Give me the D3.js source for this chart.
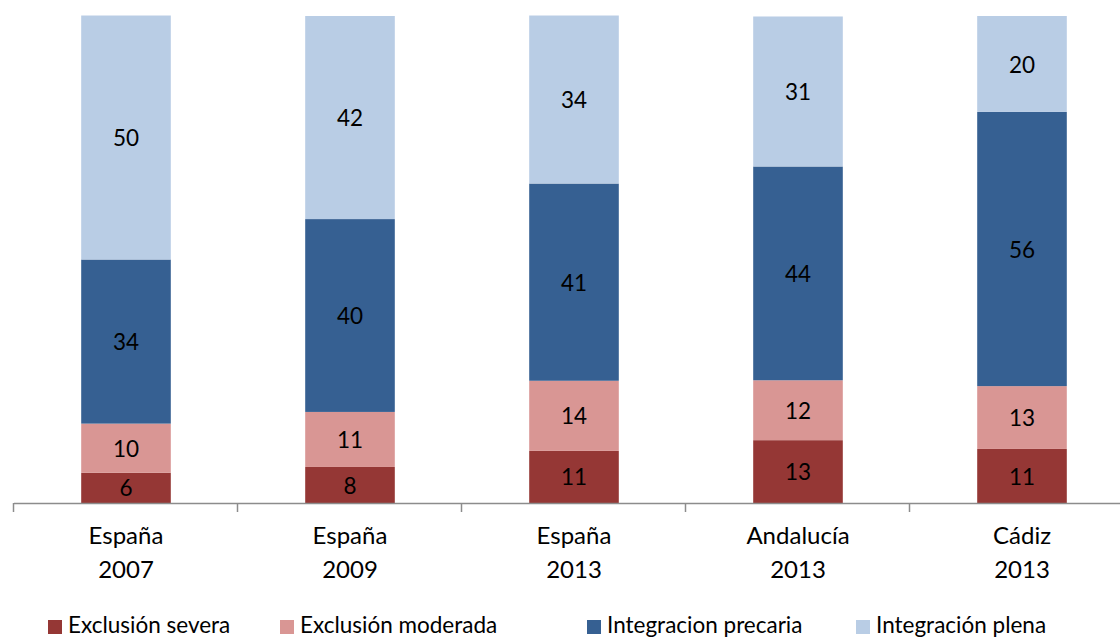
<!DOCTYPE html>
<html lang="es">
<head>
<meta charset="utf-8">
<script src="https://cdn.jsdelivr.net/npm/d3@7"></script>
<style>
  body { margin: 0; background: #fff; }
  text { font-family: Lato, "Open Sans", sans-serif; fill: #000; }
</style>
</head>
<body>
<div id="chart"></div>
<script>
// data
var categories = ["España|2007", "España|2009", "España|2013", "Andalucía|2013", "Cádiz|2013"];
var seriesNames = ["Exclusión severa", "Exclusión moderada", "Integracion precaria", "Integración plena"];
var severa   = [6.2, 7.4, 10.7, 12.9, 11.1];
var moderada = [10.1, 11.3, 14.4, 12.3, 12.9];
var precaria = [33.7, 39.6, 40.5, 43.9, 56.3];
var plena    = [50.1, 41.7, 34.5, 30.8, 19.7];
var labels = [
  [6, 8, 11, 13, 11],
  [10, 11, 14, 12, 13],
  [34, 40, 41, 44, 56],
  [50, 42, 34, 31, 20]
];
var colors = ["#953735", "#d99694", "#366092", "#b9cde5"];

var width = 1120, height = 639;
var svg = d3.select("#chart").append("svg")
  .attr("width", width)
  .attr("height", height);

var rows = categories.map(function(c, i) {
  return { cat: c, s0: severa[i], s1: moderada[i], s2: precaria[i], s3: plena[i] };
});
var keys = ["s0", "s1", "s2", "s3"];
var stacked = d3.stack().keys(keys)(rows);

var x = d3.scaleBand()
  .domain(categories)
  .range([14, 1134])
  .paddingInner(0.6)
  .paddingOuter(0.3);

var y = d3.scaleLinear()
  .domain([0, 100])
  .range([503, 16]);

// bars
var layers = svg.selectAll("g.layer")
  .data(stacked)
  .enter().append("g")
  .attr("class", "layer")
  .attr("fill", function(d, i) { return colors[i]; });

layers.selectAll("rect")
  .data(function(d) { return d; })
  .enter().append("rect")
  .attr("x", function(d) { return x(d.data.cat); })
  .attr("width", x.bandwidth())
  .attr("y", function(d) { return y(d[1]); })
  .attr("height", function(d) { return y(d[0]) - y(d[1]); });

// value labels
stacked.forEach(function(layer, li) {
  svg.selectAll(null)
    .data(layer)
    .enter().append("text")
    .attr("x", function(d) { return x(d.data.cat) + x.bandwidth() / 2; })
    .attr("y", function(d) { return (y(d[0]) + y(d[1])) / 2; })
    .attr("dy", "0.38em")
    .attr("text-anchor", "middle")
    .style("font-size", "22.5px")
    .text(function(d, i) { return labels[li][i]; });
});

// x axis
var axis = svg.append("g");
axis.append("line")
  .attr("x1", 14).attr("x2", width)
  .attr("y1", 503.5).attr("y2", 503.5)
  .attr("stroke", "#8c8c8c")
  .attr("stroke-width", 1.5);
axis.selectAll("line.tick")
  .data(categories)
  .enter().append("line")
  .attr("class", "tick")
  .attr("x1", function(d) { return x(d) - x.bandwidth() * 0.75 - 0.5; })
  .attr("x2", function(d) { return x(d) - x.bandwidth() * 0.75 - 0.5; })
  .attr("y1", 503).attr("y2", 512)
  .attr("stroke", "#8c8c8c")
  .attr("stroke-width", 1.5);

var catLabels = axis.selectAll("text")
  .data(categories)
  .enter().append("text")
  .attr("x", function(d) { return x(d) + x.bandwidth() / 2; })
  .attr("y", 544)
  .attr("text-anchor", "middle")
  .style("font-size", "24px");
catLabels.append("tspan")
  .attr("x", function(d) { return x(d) + x.bandwidth() / 2; })
  .text(function(d) { return d.split("|")[0]; });
catLabels.append("tspan")
  .attr("x", function(d) { return x(d) + x.bandwidth() / 2; })
  .attr("dy", 34)
  .text(function(d) { return d.split("|")[1]; });

// legend
var legendX = [48, 280, 587, 856];
var legend = svg.selectAll("g.legend")
  .data(seriesNames)
  .enter().append("g")
  .attr("class", "legend")
  .attr("transform", function(d, i) { return "translate(" + legendX[i] + ",620)"; });
legend.append("rect")
  .attr("width", 14).attr("height", 14)
  .attr("fill", function(d, i) { return colors[i]; });
legend.append("text")
  .attr("x", 20).attr("y", 13)
  .style("font-size", "22.5px")
  .text(function(d) { return d; });
</script>
</body>
</html>
